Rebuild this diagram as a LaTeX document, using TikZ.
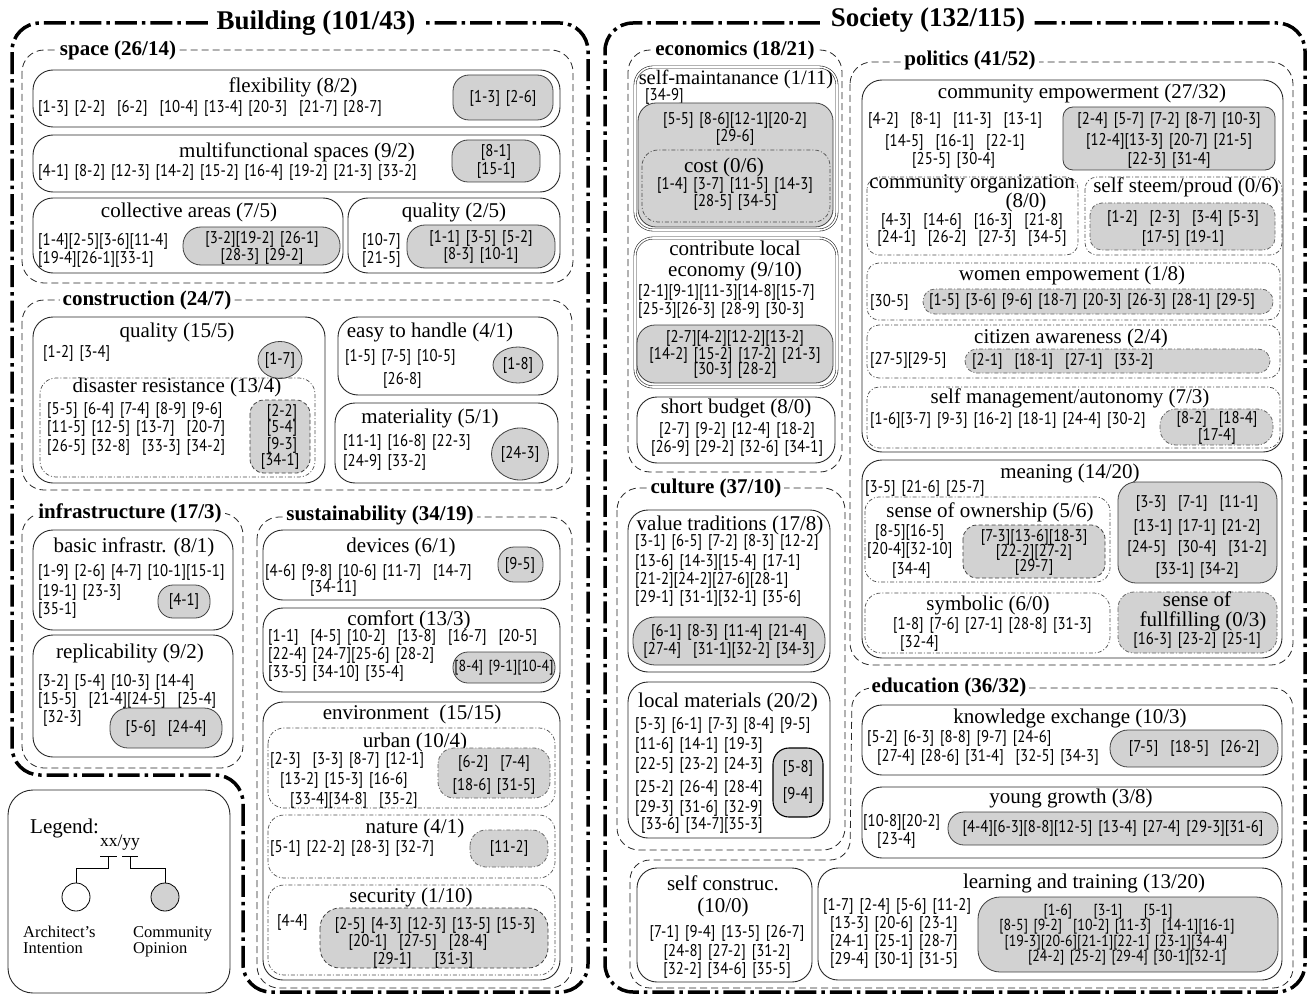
\documentclass[tikz,border=0pt]{standalone}
\usepackage{fontspec}
\setmainfont{Liberation Serif}
\newfontfamily\ptsans[FakeStretch=0.87]{PT Sans}
\usetikzlibrary{shapes.geometric}
\newcommand\ttlfont{\fontsize{21}{23}\selectfont}
\newcommand\hdfont{\fontsize{21}{23}\selectfont\bfseries}
\newcommand\bigfont{\fontsize{27}{29}\selectfont\bfseries}
\newcommand\brfont{\ptsans\fontsize{17}{18}\selectfont\spaceskip=6pt\relax}
\newcommand\brsfont{\ptsans\fontsize{16}{16}\selectfont\spaceskip=5.5pt\relax}
\newcounter{nn}
\newcommand\Bx[5][]{\draw[#1] (#2,#3) rectangle (#4,#5);}
\newcommand\Ttl[4][]{\stepcounter{nn}\node[ttl,#1] (n\arabic{nn}) at (#2,#3) {#4};}
\newcommand\Tx[4][]{\stepcounter{nn}\node[br,anchor=west,#1] (n\arabic{nn}) at (#2,#3) {#4};}
\newcommand\Tc[4][]{\stepcounter{nn}\node[br,#1] (n\arabic{nn}) at (#2,#3) {#4};}
\newcommand\Hd[4][]{\stepcounter{nn}\node[hd,#1] (n\arabic{nn}) at (#2,#3) {#4};}
\begin{document}
\begin{tikzpicture}[x=1pt,y=-1pt,
  frame/.style={line width=3.5pt, dash pattern=on 22pt off 5pt on 3.5pt off 5pt, rounded corners=28pt},
  grp/.style={draw=black!85, line width=0.8pt, dash pattern=on 7pt off 4pt, rounded corners=22pt},
  cat/.style={draw=black!85, line width=0.9pt, rounded corners=20pt},
  dbl/.style={draw=black!85, line width=0.6pt, double, double distance=1.6pt, rounded corners=18pt},
  sub/.style={draw=black!70, line width=0.7pt, dash pattern=on 4pt off 2pt on 1pt off 2pt, rounded corners=16pt},
  gb/.style={fill=gray!35, draw=black!75, line width=0.8pt, rounded corners=12pt},
  gbd/.style={gb, dash pattern=on 4pt off 2.5pt},
  gbdd/.style={gb, draw=black!60, dash pattern=on 4pt off 2pt on 1pt off 2pt},
  gel/.style={ellipse, draw=black!75, fill=gray!35, line width=0.8pt, inner sep=0pt, font=\brfont},
  ttl/.style={font=\ttlfont, inner sep=0pt},
  hd/.style={font=\hdfont, fill=white, inner sep=3pt},
  br/.style={font=\brfont, inner sep=0pt}]
\useasboundingbox (0,0) rectangle (1309,995);

% ---------- frames ----------
\draw[frame] (300,23) -- (588,23) -- (588,992) -- (243,992) -- (243,775) -- (12,775) -- (12,23) -- cycle;
\draw[frame] (900,23) -- (1305,23) -- (1305,992) -- (605,992) -- (605,23) -- cycle;
\Hd[font=\bigfont, inner xsep=9pt]{316}{23}{Building (101/43)}
\Hd[font=\bigfont, inner xsep=8pt]{928}{20}{Society (132/115)}

% ---------- building groups ----------
\Bx[grp]{22}{50}{573}{283}
\Bx[grp]{22}{300}{572}{490}
\Bx[grp]{22}{513}{243}{768}
\Bx[grp]{257}{517}{572}{988}

% space
\Bx[cat]{33}{70}{560}{127}
\Ttl{293}{87}{flexibility (8/2)}
\Tx{38}{108}{[1-3] [2-2] \ [6-2] \ [10-4] [13-4] [20-3] \ [21-7] [28-7]}
\Bx[gb, rounded corners=16pt]{453}{75}{553}{120}
\Tc{503}{98}{[1-3] [2-6]}

\Bx[cat]{33}{135}{560}{192}
\Ttl{297}{152}{multifunctional spaces (9/2)}
\Tx{38}{172}{[4-1] [8-2] [12-3] [14-2] [15-2] [16-4] [19-2] [21-3] [33-2]}
\Bx[gb, rounded corners=16pt]{452}{140}{540}{182}
\Tc{496}{152}{[8-1]}
\Tc{496}{170}{[15-1]}

\Bx[cat]{33}{198}{343}{273}
\Ttl{189}{212}{collective areas (7/5)}
\Tx{38}{241}{[1-4][2-5][3-6][11-4]}
\Tx{38}{259}{[19-4][26-1][33-1]}
\Bx[gb, rounded corners=18pt]{183}{227}{340}{265}
\Tc{262}{239}{[3-2][19-2] [26-1]}
\Tc{262}{256}{[28-3] [29-2]}

\Bx[cat]{348}{198}{560}{273}
\Ttl{454}{212}{quality (2/5)}
\Tx{362}{241}{[10-7]}
\Tx{362}{259}{[21-5]}
\Bx[gb, rounded corners=18pt]{407}{225}{555}{268}
\Tc{481}{238}{[1-1] [3-5] [5-2]}
\Tc{481}{255}{[8-3] [10-1]}

% construction
\Bx[cat]{33}{317}{325}{483}
\Ttl{177}{332}{quality (15/5)}
\Tx{43}{353}{[1-2] [3-4]}
\node[gel, minimum width=44pt, minimum height=37pt] (e1) at (280,360) {[1-7]};
\Bx[sub]{40}{378}{315}{477}
\Ttl{177}{387}{disaster resistance (13/4)}
\Tx{47}{410}{[5-5] [6-4] [7-4] [8-9] [9-6]}
\Tx{47}{428}{[11-5] [12-5] [13-7] \ [20-7]}
\Tx{47}{447}{[26-5] [32-8] \ [33-3] [34-2]}
\Bx[gbd, rounded corners=14pt]{250}{400}{310}{473}
\Tc{282}{412}{[2-2]}
\Tc{282}{428}{[5-4]}
\Tc{282}{445}{[9-3]}
\Tc{280}{461}{[34-1]}

\Bx[cat]{338}{317}{558}{395}
\Ttl{430}{332}{easy to handle (4/1)}
\Tx{345}{357}{[1-5] [7-5] [10-5]}
\Tx{383}{380}{[26-8]}
\node[gel, minimum width=50pt, minimum height=36pt] (e2) at (518,365) {[1-8]};

\Bx[cat]{335}{403}{558}{483}
\Ttl{430}{418}{materiality (5/1)}
\Tx{343}{442}{[11-1] [16-8] [22-3]}
\Tx{343}{462}{[24-9] [33-2]}
\node[gel, minimum width=57pt, minimum height=52pt] (e3) at (520,454) {[24-3]};

% infrastructure
\Bx[cat]{33}{530}{233}{630}
\Ttl{134}{547}{basic infrastr. (8/1)}
\Tx{38}{572}{[1-9] [2-6] [4-7] [10-1][15-1]}
\Tx{38}{592}{[19-1] [23-3]}
\Tx{38}{610}{[35-1]}
\Bx[gb, rounded corners=15pt]{158}{585}{210}{618}
\Tc{184}{601}{[4-1]}

\Bx[cat]{33}{635}{233}{757}
\Ttl{130}{653}{replicability (9/2)}
\Tx{38}{682}{[3-2] [5-4] [10-3] [14-4]}
\Tx{38}{700}{[15-5] \ [21-4][24-5] \ [25-4]}
\Tx{43}{718}{[32-3]}
\Bx[gb, rounded corners=18pt]{110}{708}{222}{748}
\Tc{166}{728}{[5-6] \ [24-4]}

% sustainability
\Bx[cat]{263}{530}{560}{600}
\Ttl{401}{547}{devices (6/1)}
\Tx{265}{572}{[4-6] [9-8] [10-6] [11-7] \ [14-7]}
\Tx{310}{588}{[34-11]}
\Bx[gb, rounded corners=16pt]{498}{547}{543}{582}
\Tc{520}{565}{[9-5]}

\Bx[cat]{263}{608}{560}{692}
\Ttl{409}{620}{comfort (13/3)}
\Tx{268}{637}{[1-1] \ [4-5] [10-2] \ [13-8] \ [16-7] \ [20-5]}
\Tx{268}{655}{[22-4] [24-7][25-6] [28-2]}
\Tx{268}{673}{[33-5] [34-10] [35-4]}
\Bx[gb, rounded corners=15pt]{453}{652}{555}{683}
\Tc[font=\brsfont]{504}{668}{[8-4] [9-1][10-4]}

\Bx[cat]{263}{702}{560}{980}
\Ttl{412}{714}{environment \ (15/15)}
\Bx[sub]{268}{728}{555}{808}
\Ttl{415}{742}{urban (10/4)}
\Tx{270}{760}{[2-3] \ [3-3] [8-7] [12-1]}
\Tx{280}{780}{[13-2] [15-3] [16-6]}
\Tx{290}{800}{[33-4][34-8] \ [35-2]}
\Bx[gbdd, rounded corners=16pt]{438}{748}{550}{798}
\Tc{494}{763}{[6-2] \ [7-4]}
\Tc{494}{786}{[18-6] [31-5]}

\Bx[sub]{268}{815}{555}{878}
\Ttl{415}{828}{nature (4/1)}
\Tx{270}{848}{[5-1] [22-2] [28-3] [32-7]}
\Bx[gbdd, rounded corners=16pt]{470}{830}{548}{867}
\Tc{509}{848}{[11-2]}

\Bx[sub]{268}{885}{555}{975}
\Ttl{411}{897}{security (1/10)}
\Tx{277}{922}{[4-4]}
\Bx[gbd, rounded corners=20pt]{320}{908}{548}{968}
\Tc{435}{925}{[2-5] [4-3] [12-3] [13-5] [15-3]}
\Tc{418}{942}{[20-1] \ [27-5] \ [28-4]}
\Tc{423}{960}{[29-1] \quad [31-3]}

% legend
\draw[cat, rounded corners=25pt] (8,790) rectangle (230,993);
\node[ttl, font=\fontsize{21}{22}\selectfont, anchor=west] (lg) at (30,828) {Legend:};
\node[ttl, font=\fontsize{17.5}{19}\selectfont] (xy) at (120,843) {xx/yy};
\draw[line width=0.8pt] (100,856) -- (117,856) (122,856) -- (138,856);
\coordinate (xa) at (108,856);
\coordinate (ya) at (130,856);
\node[circle, draw, line width=0.8pt, minimum size=28pt, inner sep=0pt] (ca) at (76,897) {};
\node[circle, draw, fill=gray!35, line width=0.8pt, minimum size=28pt, inner sep=0pt] (cb) at (165,897) {};
\draw[line width=0.8pt] (xa) -- (108,868) -| (ca.north);
\draw[line width=0.8pt] (ya) -- (130,868) -| (cb.north);
\node[anchor=north west, align=left, font=\fontsize{16.5}{16}\selectfont, inner sep=0pt] (la) at (23,926) {Architect's\\Intention};
\node[anchor=north west, align=left, font=\fontsize{16.5}{16}\selectfont, inner sep=0pt] (lb) at (133,926) {Community\\Opinion};

% ---------- society groups ----------
\Bx[grp]{628}{50}{842}{472}
\Bx[grp]{617}{488}{845}{850}
\Bx[grp]{850}{62}{1293}{665}
\draw[grp, rounded corners=20pt] (630,920) -- (630,860) -- (850,860) -- (852,688) -- (1293,688) -- (1293,988) -- (630,988) -- cycle;

% economics
\draw[dbl] (635,67) rectangle (837,230);
\Ttl[font=\fontsize{20.5}{22}\selectfont]{736}{79}{self-maintanance (1/11)}
\Tx{645}{96}{[34-9]}
\Bx[gb, rounded corners=18pt]{638}{103}{833}{227}
\Tc{735}{120}{[5-5] [8-6][12-1][20-2]}
\Tc{735}{137}{[29-6]}
\Bx[sub, rounded corners=16pt]{642}{150}{830}{222}
\Ttl{724}{167}{cost (0/6)}
\Tc{735}{185}{[1-4] [3-7] [11-5] [14-3]}
\Tc{735}{202}{[28-5] [34-5]}

\draw[dbl] (635,238) rectangle (837,387);
\Ttl{735}{248}{contribute local}
\Ttl{735}{271}{economy (9/10)}
\Tx{638}{292}{[2-1][9-1][11-3][14-8][15-7]}
\Tx{638}{310}{[25-3][26-3] [28-9] [30-3]}
\Bx[gb, rounded corners=18pt]{637}{325}{833}{383}
\Tc{735}{338}{[2-7][4-2][12-2][13-2]}
\Tc{735}{355}{[14-2] [15-2] [17-2] [21-3]}
\Tc{735}{370}{[30-3] [28-2]}

\Bx[cat]{637}{397}{835}{463}
\Ttl{736}{408}{short budget (8/0)}
\Tc{737}{430}{[2-7] [9-2] [12-4] [18-2]}
\Tc{737}{448}{[26-9] [29-2] [32-6] [34-1]}

% culture
\Bx[cat]{628}{510}{830}{672}
\Ttl{730}{525}{value traditions (17/8)}
\Tx{635}{542}{[3-1] [6-5] [7-2] [8-3] [12-2]}
\Tx{635}{562}{[13-6] [14-3][15-4] [17-1]}
\Tx{635}{580}{[21-2][24-2][27-6][28-1]}
\Tx{635}{598}{[29-1] [31-1][32-1] [35-6]}
\Bx[gb, rounded corners=22pt]{633}{617}{825}{665}
\Tc{729}{632}{[6-1] [8-3] [11-4] [21-4]}
\Tc{729}{650}{[27-4] \ [31-1][32-2] [34-3]}

\Bx[cat]{628}{682}{830}{838}
\Ttl{728}{702}{local materials (20/2)}
\Tx{635}{725}{[5-3] [6-1] [7-3] [8-4] [9-5]}
\Tx{635}{745}{[11-6] [14-1] [19-3]}
\Tx{635}{765}{[22-5] [23-2] [24-3]}
\Tx{635}{788}{[25-2] [26-4] [28-4]}
\Tx{635}{808}{[29-3] [31-6] [32-9]}
\Tx{641}{825}{[33-6] [34-7][35-3]}
\Bx[gb, draw=black, line width=1.1pt, rounded corners=16pt]{773}{748}{823}{817}
\Tc{798}{768}{[5-8]}
\Tc{798}{795}{[9-4]}

% education
\Bx[cat]{637}{868}{812}{982}
\Ttl{723}{883}{self construc.}
\Ttl{723}{907}{(10/0)}
\Tc{727}{933}{[7-1] [9-4] [13-5] [26-7]}
\Tc{727}{952}{[24-8] [27-2] [31-2]}
\Tc{727}{970}{[32-2] [34-6] [35-5]}

\Bx[cat]{818}{868}{1282}{980}
\Ttl{1084}{883}{learning and training (13/20)}
\Tx{823}{906}{[1-7] [2-4] [5-6] [11-2]}
\Tx{830}{924}{[13-3] [20-6] [23-1]}
\Tx{830}{942}{[24-1] [25-1] [28-7]}
\Tx{830}{960}{[29-4] [30-1] [31-5]}
\Bx[gb, rounded corners=22pt]{978}{897}{1278}{972}
\Tc[font=\brsfont]{1108}{912}{[1-6] \quad [3-1] \quad [5-1]}
\Tc[font=\brsfont]{1117}{927}{[8-5] [9-2] \ [10-2] [11-3] \ [14-1][16-1]}
\Tc[font=\brsfont]{1116}{943}{[19-3][20-6][21-1][22-1] [23-1][34-4]}
\Tc[font=\brsfont]{1127}{958}{[24-2] [25-2] [29-4] [30-1][32-1]}

\Bx[cat]{862}{705}{1282}{775}
\Ttl{1070}{718}{knowledge exchange (10/3)}
\Tx{867}{738}{[5-2] [6-3] [8-8] [9-7] [24-6]}
\Tx{877}{757}{[27-4] [28-6] [31-4] \ [32-5] [34-3]}
\Bx[gb, rounded corners=18pt]{1110}{730}{1278}{767}
\Tc{1194}{748}{[7-5] \ [18-5] \ [26-2]}

\Bx[cat]{862}{787}{1282}{858}
\Ttl{1071}{798}{young growth (3/8)}
\Tx{863}{822}{[10-8][20-2]}
\Tx{877}{840}{[23-4]}
\Bx[gb, rounded corners=16pt]{948}{812}{1278}{845}
\Tc{1113}{828}{[4-4][6-3][8-8][12-5] [13-4] [27-4] [29-3][31-6]}

% politics
\Bx[cat]{862}{80}{1283}{452}
\Ttl{1082}{93}{community empowerment (27/32)}
\Tx{868}{120}{[4-2] \ [8-1] \ [11-3] \ [13-1]}
\Tx{885}{142}{[14-5] \ [16-1] \ [22-1]}
\Tx{912}{160}{[25-5] [30-4]}
\Bx[gb, rounded corners=10pt]{1063}{107}{1275}{170}
\Tc{1169}{120}{[2-4] [5-7] [7-2] [8-7] [10-3]}
\Tc{1169}{141}{[12-4][13-3] [20-7] [21-5]}
\Tc{1169}{160}{[22-3] [31-4]}

\Bx[sub, rounded corners=12pt]{867}{177}{1078}{255}
\Ttl{972}{184}{community organization}
\Ttl{1026}{202}{(8/0)}
\Tc{972}{221}{[4-3] \ [14-6] \ [16-3] \ [21-8]}
\Tc{972}{238}{[24-1] \ [26-2] \ [27-3] \ [34-5]}

\Bx[sub, rounded corners=12pt]{1085}{177}{1282}{255}
\Ttl{1186}{187}{self steem/proud (0/6)}
\Bx[gbdd, rounded corners=12pt]{1090}{203}{1275}{250}
\Tc{1183}{218}{[1-2] \ [2-3] \ [3-4] [5-3]}
\Tc{1183}{238}{[17-5] [19-1]}

\Bx[sub, rounded corners=12pt]{867}{263}{1280}{320}
\Ttl{1072}{275}{women empowement (1/8)}
\Tx{870}{302}{[30-5]}
\Bx[gbdd, rounded corners=12pt]{923}{289}{1273}{314}
\Tc{1092}{301}{[1-5] [3-6] [9-6] [18-7] [20-3] [26-3] [28-1] [29-5]}

\Bx[sub, rounded corners=12pt]{867}{325}{1280}{378}
\Ttl{1071}{338}{citizen awareness (2/4)}
\Tx{870}{360}{[27-5][29-5]}
\Bx[gbdd, rounded corners=12pt]{965}{349}{1270}{373}
\Tx{972}{361}{[2-1] \ [18-1] \ [27-1] \ [33-2]}

\Bx[sub, rounded corners=12pt]{867}{387}{1280}{448}
\Ttl{1070}{398}{self management/autonomy (7/3)}
\Tx{870}{420}{[1-6][3-7] [9-3] [16-2] [18-1] [24-4] [30-2]}
\Bx[gbdd, rounded corners=16pt]{1160}{409}{1273}{445}
\Tc{1217}{419}{[8-2] \ [18-4]}
\Tc{1217}{436}{[17-4]}

\Bx[cat]{862}{460}{1282}{658}
\Ttl{1070}{473}{meaning (14/20)}
\Tx{865}{488}{[3-5] [21-6] [25-7]}
\Bx[sub, rounded corners=14pt]{865}{497}{1110}{582}
\Ttl{990}{512}{sense of ownership (5/6)}
\Tx{875}{532}{[8-5][16-5]}
\Tx{867}{550}{[20-4][32-10]}
\Tx{892}{570}{[34-4]}
\Bx[gbd, rounded corners=14pt]{963}{525}{1105}{578}
\Tc{1034}{537}{[7-3][13-6][18-3]}
\Tc{1034}{552}{[22-2][27-2]}
\Tc{1034}{567}{[29-7]}
\Bx[gb, rounded corners=18pt]{1118}{482}{1277}{583}
\Tc{1197}{503}{[3-3] \ [7-1] \ [11-1]}
\Tc{1197}{527}{[13-1] [17-1] [21-2]}
\Tc{1197}{548}{[24-5] \ [30-4] \ [31-2]}
\Tc{1197}{570}{[33-1] [34-2]}
\Bx[sub, rounded corners=16pt]{865}{593}{1110}{653}
\Ttl{988}{605}{symbolic (6/0)}
\Tx{893}{625}{[1-8] [7-6] [27-1] [28-8] [31-3]}
\Tx{900}{643}{[32-4]}
\Bx[gbdd, rounded corners=16pt]{1118}{592}{1277}{653}
\Ttl{1197}{599}{sense of}
\Ttl{1203}{621}{fullfilling (0/3)}
\Tc{1197}{640}{[16-3] [23-2] [25-1]}

% group headers
\Hd{118}{50}{space (26/14)}
\Hd{147}{300}{construction (24/7)}
\Hd{130}{513}{infrastructure (17/3)}
\Hd{380}{515}{sustainability (34/19)}
\Hd{735}{50}{economics (18/21)}
\Hd{716}{488}{culture (37/10)}
\Hd{970}{60}{politics (41/52)}
\Hd{949}{687}{education (36/32)}
\end{tikzpicture}
\end{document}
